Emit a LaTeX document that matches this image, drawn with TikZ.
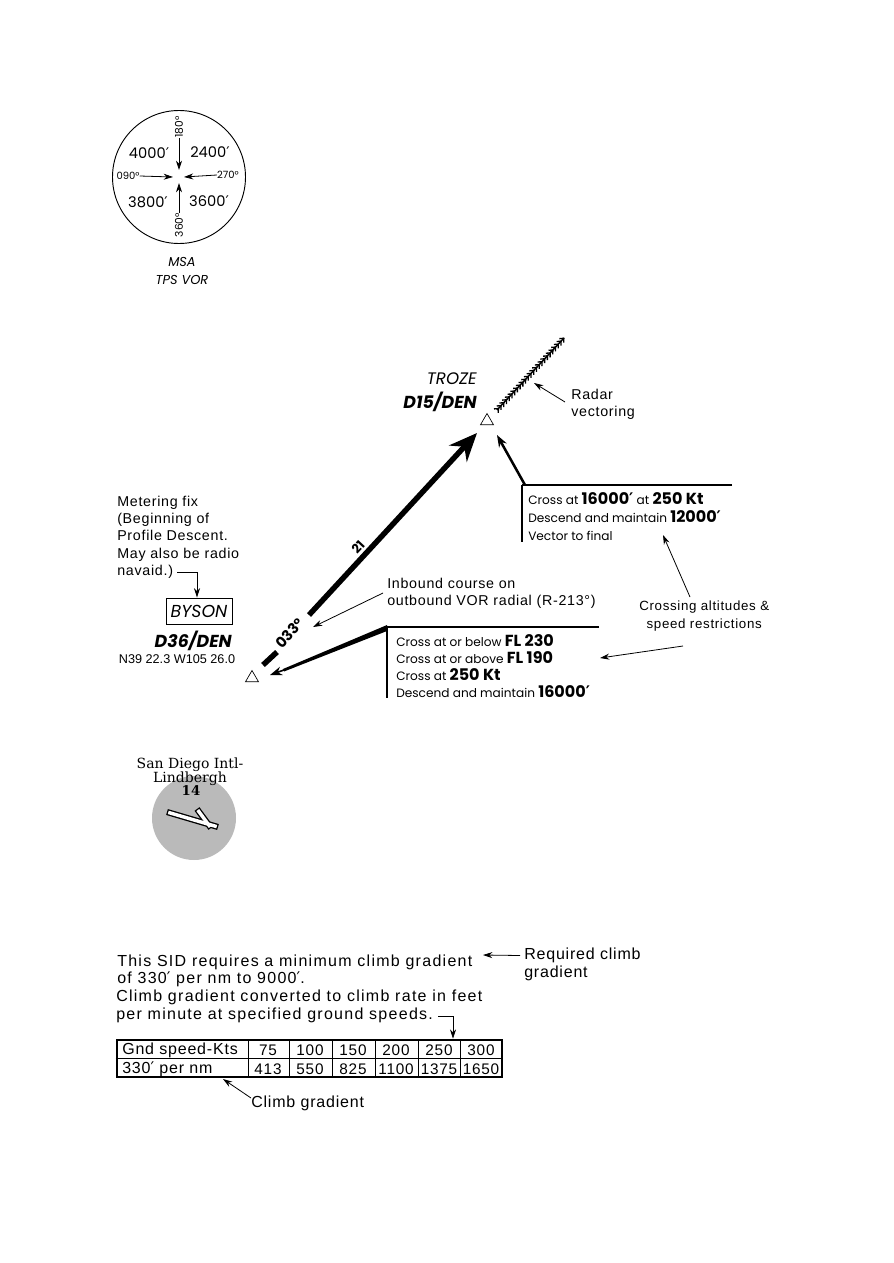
\documentclass[tikz,border=0pt]{standalone}
\usepackage{fontspec}
\usetikzlibrary{arrows.meta, decorations.markings, shapes.geometric}

\newfontfamily\chartfont{Poppins}
\newfontfamily\notefont[LetterSpace=5]{Liberation Sans}
\newfontfamily\sidfont[LetterSpace=8]{Liberation Sans}
\newfontfamily\coordfont{Liberation Sans}
\newfontfamily\airportfont{DejaVu Serif}
\newfontfamily\primefont{DejaVu Sans}
\newcommand{\ftmark}{{\primefont ′}}
\newcommand{\heavy}[1]{\textbf{\fontsize{12}{13}\selectfont #1}}

\tikzset{
    chartlabel/.style={inner sep=0pt, font=\chartfont\fontsize{9.1}{13.5}\selectfont},
    notelabel/.style={inner sep=0pt, align=left, anchor=west, font=\notefont\fontsize{10.7}{13}\selectfont},
    climblabel/.style={notelabel, font=\notefont\fontsize{12}{13}\selectfont},
    sidlabel/.style={notelabel, font=\sidfont\fontsize{12}{13}\selectfont},
    thinarrow/.style={line width=0.6pt, -{Stealth[length=7pt, width=4.5pt]}},
    fixmark/.style={regular polygon, regular polygon sides=3, draw, line width=0.5pt, inner sep=0pt, minimum size=11.25pt},
    cellrule/.style={line width=0.7pt},
}

\begin{document}
\begin{tikzpicture}[x=0.75pt, y=-0.75pt]
    \useasboundingbox (0, 0) rectangle (893, 1263);

    % minimum safe altitude
    \node[draw, circle, line width=0.7pt, minimum size=99.75pt, inner sep=0pt] (msaring) at (179, 177) {};
    \node[chartlabel, font=\chartfont\fontsize{11}{12}\selectfont] (alta) at (149, 153) {4000\ftmark};
    \node[chartlabel, font=\chartfont\fontsize{11}{12}\selectfont] (altb) at (210, 152) {2400\ftmark};
    \node[chartlabel, font=\chartfont\fontsize{11}{12}\selectfont] (altc) at (148, 202) {3800\ftmark};
    \node[chartlabel, font=\chartfont\fontsize{11}{12}\selectfont] (altd) at (209, 201) {3600\ftmark};
    \node[chartlabel, font=\chartfont\fontsize{7.5}{10}\selectfont] (brga) at (128, 176) {090°};
    \node[chartlabel, font=\chartfont\fontsize{7.5}{10}\selectfont] (brgb) at (228, 175) {270°};
    \node[chartlabel, font=\chartfont\fontsize{8}{10}\selectfont, rotate=90] (brgc) at (179, 127) {180°};
    \node[chartlabel, font=\chartfont\fontsize{8}{10}\selectfont, rotate=90] (brgd) at (179, 225) {360°};
    \node[chartlabel, align=center, font=\chartfont\itshape\fontsize{9.7}{13}\selectfont] (msatext) at (182, 271) {MSA\\TPS VOR};

    \draw[thinarrow] (brgc.west) -- (179, 170);
    \draw[thinarrow] (brgd.east) -- (179, 183);
    \draw[thinarrow] (brga.east) -- (173, 177);
    \draw[thinarrow] (brgb.west) -- (184, 177);

    % fixes
    \node[fixmark] (trozefix) at (487, 421) {};
    \node[fixmark] (bysonfix) at (252, 678) {};
    \node[chartlabel, anchor=east, font=\chartfont\itshape\fontsize{12.5}{13}\selectfont] (troze) at (477, 379) {TROZE};
    \node[chartlabel, anchor=east, font=\chartfont\bfseries\itshape\fontsize{13}{13}\selectfont] (trozedist) at (477, 402) {D15/DEN};
    \node[draw, line width=0.7pt, minimum width=49.5pt, minimum height=19.5pt, inner sep=0pt, font=\chartfont\itshape\fontsize{13}{13}\selectfont] (byson) at (199, 611) {BYSON};
    \node[chartlabel, anchor=east, font=\chartfont\bfseries\itshape\fontsize{13}{13}\selectfont] (bysondist) at (232, 641) {D36/DEN};
    \node[chartlabel, font=\coordfont\fontsize{9.5}{10}\selectfont] (bysonpos) at (177, 659) {N39 22.3 W105 26.0};

    % notes
    \node[notelabel] (metering) at (117, 537) {Metering fix\\(Beginning of\\Profile Descent.\\May also be radio\\navaid.)};
    \node[notelabel] (radar) at (571, 404) {Radar\\vectoring};
    \node[notelabel] (inbound) at (387, 593) {Inbound course on\\outbound VOR radial (R-213°)};
    \node[notelabel, align=center, font=\notefont\fontsize{10}{13.5}\selectfont] (crossing) at (639, 616) {Crossing altitudes \&\\speed restrictions};

    % course legs
    \coordinate (barbsstart) at (497, 410);
    \coordinate (barbsend) at (564, 338);
    \coordinate (legstart) at (309, 615);
    \coordinate (legtip) at (477, 433);
    \coordinate (stubstart) at (263, 665);
    \coordinate (stubend) at (277, 652);
    \draw[line width=1.1pt, postaction={decorate}, decoration={markings,
        mark=between positions 0.02 and 1 step 3pt with {\draw[line width=1pt] (-2.4pt, -2.2pt) -- (0, 0) -- (-2.4pt, 2.2pt);}}] (barbsstart) -- (barbsend);
    \draw[line width=4.1pt, -{Stealth[length=21pt, width=18pt, inset=7pt]}] (legstart) -- (legtip);
    \draw[line width=4.1pt] (stubstart) -- (stubend);
    \node[chartlabel, rotate=47, font=\chartfont\bfseries\fontsize{9.5}{10}\selectfont] (legdist) at (358, 547) {21};
    \node[chartlabel, rotate=47, font=\chartfont\bfseries\fontsize{11}{13}\selectfont] (legcourse) at (290, 633) {033°};

    % altitude boxes
    \node[chartlabel, align=left, anchor=west] (crossone) at (528, 517) {Cross at \heavy{16000\ftmark} at \heavy{250 Kt}\\Descend and maintain \heavy{12000\ftmark}\\Vector to final};
    \node[chartlabel, align=left, anchor=west, font=\chartfont\fontsize{9.1}{12.75}\selectfont] (crosstwo) at (396, 666.5) {Cross at or below \heavy{FL 230}\\Cross at or above \heavy{FL 190}\\Cross at \heavy{250 Kt}\\Descend and maintain \heavy{16000\ftmark}};
    \coordinate (oneleft) at (522, 485);
    \coordinate (oneright) at (732, 485);
    \coordinate (onelow) at (522, 542);
    \coordinate (twoleft) at (387, 627);
    \coordinate (tworight) at (599, 627);
    \coordinate (twolow) at (387, 698);
    \draw[line width=1.2pt] (oneright) -- (oneleft);
    \draw[line width=0.8pt] (oneleft) -- (onelow);
    \draw[line width=1.2pt] (tworight) -- (twoleft);
    \draw[line width=0.8pt] (twoleft) -- (twolow);
    \draw[line width=1.9pt, -{Stealth[length=9pt, width=6.5pt]}] (525, 485) -- (497, 435);
    \fill (387, 625) -- (387, 631) -- (284, 671.5) -- (283, 669) -- cycle;
    \draw[line width=1.2pt, -{Stealth[length=9pt, width=6.5pt]}] (295, 666) -- (270, 675);

    % note leaders
    \coordinate (meterknee) at (197, 572);
    \draw[thinarrow] (177, 572) -- (meterknee) -- (byson.north -| meterknee);
    \draw[thinarrow] (radar.west) ++(-6, -2) -- (534, 383);
    \draw[thinarrow] (inbound.west) ++(-4, 0) -- (313, 627);
    \draw[thinarrow] (690, 597) -- (663, 535);
    \draw[thinarrow] (683, 646) -- (600, 658);

    % airport
    \node[circle, fill=black!27, minimum size=63pt, inner sep=0pt] (airport) at (194, 818) {};
    \node[chartlabel, align=center, font=\airportfont\fontsize{10.5}{10.5}\selectfont] (airportname) at (190, 771.5) {San Diego Intl-\\Lindbergh};
    \node[chartlabel, font=\airportfont\bfseries\fontsize{10}{10}\selectfont] (airportelev) at (191, 791) {14};
    \coordinate (rwyaa) at (167, 812);
    \coordinate (rwyab) at (218, 827);
    \coordinate (rwyba) at (197, 809);
    \coordinate (rwybb) at (211, 828);
    \draw[line width=4.6pt] (rwyaa) -- (rwyab);
    \draw[line width=4.6pt] (rwyba) -- (rwybb);
    \draw[white, line width=2.6pt, shorten >=1pt, shorten <=1pt] (rwyaa) -- (rwyab);
    \draw[white, line width=2.6pt, shorten >=1pt, shorten <=1pt] (rwyba) -- (rwybb);

    % climb table
    \node[sidlabel] (siduppera) at (117, 971) {This SID requires a minimum climb gradient\\of 330\ftmark{} per nm to 9000\ftmark.};
    \node[sidlabel] (sidupperb) at (116, 1006.5) {Climb gradient converted to climb rate in feet\\per minute at specified ground speeds.};
    \node[climblabel] (required) at (524, 964.5) {Required climb\\gradient};
    \node[climblabel] (climbnote) at (251, 1103) {Climb gradient};
    \node[draw, line width=1.9pt, minimum width=289pt, minimum height=27.75pt, inner sep=0pt] (climbtable) at (309.5, 1058.5) {};
    \draw[cellrule] (climbtable.west) -- (climbtable.east);
    \foreach \colx in {248, 289, 332, 375, 418, 460} {
        \draw[cellrule] (\colx, 1040) -- (\colx, 1077);
    }
    \node[climblabel] (rowheada) at (122, 1050) {Gnd speed-Kts};
    \node[climblabel] (rowheadb) at (122, 1069) {330\ftmark{} per nm};
    \foreach \cellx/\speed/\rate in {268/75/413, 310/100/550, 353/150/825, 396/200/1100, 439/250/1375, 481/300/1650} {
        \node[inner sep=0pt, font=\notefont\fontsize{11.5}{12}\selectfont] at (\cellx, 1050) {\speed};
        \node[inner sep=0pt, font=\notefont\fontsize{11.5}{12}\selectfont] at (\cellx, 1069) {\rate};
    }
    \coordinate (speedknee) at (453, 1016);
    \draw[thinarrow] (438, 1016) -- (speedknee) -- (climbtable.north -| speedknee);
    \draw[thinarrow] (required.west) ++(-4, -9) -- (483, 955);
    \draw[thinarrow] (climbnote.west) ++(0, -5) -- (223, 1079);
\end{tikzpicture}
\end{document}
